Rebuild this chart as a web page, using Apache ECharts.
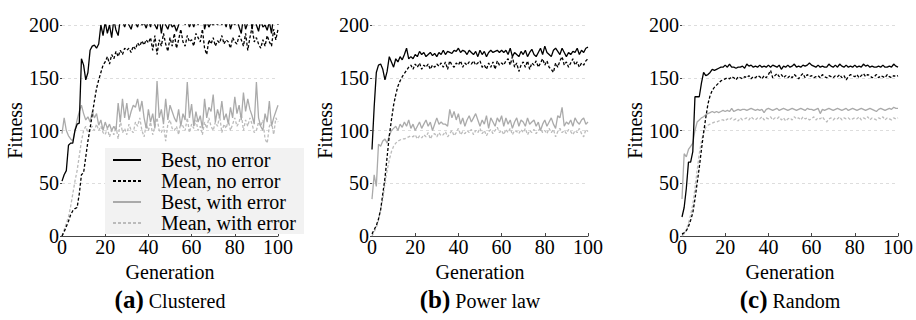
<html>
<head>
    <meta charset="utf-8">
    <title>Fitness per generation</title>
    <script src="https://cdn.jsdelivr.net/npm/echarts@6/dist/echarts.min.js"></script>
    <style>
        body { margin: 0; background: white; }
        #main { width: 916px; height: 320px; }
        .caption {
            position: absolute; top: 287px; width: 216px; text-align: center;
            font: 20px/26px "Liberation Serif", serif; color: #000;
        }
        .caption b { font-size: 25px; }
    </style>
</head>
<body>
    <div id="main"></div>
    <div id="captions"></div>
    <script>
        // generations 0..100
        var GENS = []
        for (var g = 0; g <= 100; g++) GENS.push(g)

        var SERIES_NAMES = ['Best, no error', 'Mean, no error', 'Best, with error', 'Mean, with error']
        var PANEL_TITLES = [['(a)', 'Clustered'], ['(b)', 'Power law'], ['(c)', 'Random']]
        var X_TICKS = [0, 20, 40, 60, 80, 100]
        var Y_TICKS = [0, 50, 100, 150, 200]

        // (a) Clustered
        var bestA = [52, 58, 62, 86, 88, 88, 100, 106, 107, 168,
            162, 148, 155, 176, 180, 181, 178, 182, 200, 190,
            203, 192, 200, 188, 205, 195, 190, 206, 204, 198,
            205, 200, 196, 204, 202, 198, 206, 200, 202, 197,
            205, 198, 209, 200, 196, 208, 192, 205, 200, 196,
            203, 198, 200, 194, 200, 210, 212, 200, 206, 198,
            204, 198, 206, 200, 210, 218, 196, 204, 198, 202,
            200, 203, 200, 206, 200, 205, 198, 208, 196, 203,
            200, 206, 198, 192, 208, 196, 202, 214, 196, 210,
            200, 194, 205, 198, 200, 195, 203, 192, 210, 218, 200]
        var meanA = [0, 4, 9, 14, 20, 24, 26, 27, 40, 58,
            60, 75, 90, 102, 115, 128, 140, 148, 155, 162,
            165, 170, 163, 172, 168, 175, 170, 176, 172, 178,
            176, 178, 174, 180, 177, 183, 180, 185, 181, 186,
            183, 188, 176, 190, 172, 186, 180, 192, 182, 175,
            188, 180, 192, 178, 186, 196, 184, 180, 190, 184,
            186, 180, 192, 188, 184, 196, 178, 172, 186, 182,
            188, 180, 185, 183, 190, 182, 186, 184, 178, 188,
            184, 182, 190, 186, 180, 192, 176, 188, 198, 184,
            188, 182, 178, 186, 180, 190, 184, 180, 196, 186, 196]
        var bestErrA = [97, 112, 100, 95, 92, 90, 100, 110, 118, 124,
            116, 110, 113, 108, 118, 112, 116, 105, 110, 100,
            108, 102, 106, 100, 104, 100, 126, 108, 130, 112,
            126, 110, 118, 124, 122, 130, 118, 128, 112, 102,
            120, 108, 116, 102, 147, 112, 120, 106, 130, 110,
            124, 118, 112, 108, 120, 104, 116, 110, 146, 112,
            125, 104, 118, 108, 114, 102, 130, 112, 122, 118,
            134, 108, 120, 112, 128, 110, 116, 106, 122, 112,
            132, 116, 124, 110, 136, 118, 130, 120, 114, 106,
            146, 112, 104, 100, 116, 108, 128, 104, 112, 118, 124]
        var meanErrA = [0, 6, 12, 18, 28, 40, 52, 62, 76, 90,
            100, 104, 98, 102, 104, 100, 106, 100, 104, 98,
            96, 102, 94, 100, 96, 104, 92, 110, 98, 102,
            96, 106, 100, 98, 108, 104, 112, 100, 94, 106,
            100, 108, 96, 104, 112, 100, 98, 104, 90, 106,
            110, 102, 100, 104, 96, 108, 104, 100, 112, 98,
            106, 102, 110, 100, 104, 96, 108, 102, 112, 104,
            100, 108, 104, 114, 98, 106, 102, 110, 100, 106,
            112, 104, 108, 116, 100, 110, 104, 112, 106, 98,
            100, 108, 104, 110, 92, 88, 104, 108, 96, 112, 108]

        // (b) Power law
        var bestB = [82, 122, 155, 162, 163, 158, 148, 156, 170, 165,
            160, 168, 165, 170, 167, 172, 178, 168, 170, 168,
            172, 170, 175, 172, 174, 170, 172, 174, 171, 173,
            170, 174, 172, 176, 172, 175, 174, 173, 176, 175,
            178, 174, 176, 175, 172, 176, 174, 172, 175, 170,
            176, 172, 175, 170, 174, 176, 174, 175, 176, 174,
            176, 174, 176, 172, 178, 170, 174, 172, 170, 175,
            172, 176, 170, 174, 177, 172, 170, 174, 178, 172,
            180, 174, 172, 170, 176, 178, 175, 172, 178, 174,
            170, 174, 172, 175, 174, 178, 172, 176, 174, 178, 179]
        var meanB = [2, 6, 10, 16, 25, 40, 55, 75, 95, 110,
            124, 134, 142, 147, 151, 154, 157, 160, 162, 158,
            163, 160, 164, 158, 162, 160, 163, 158, 162, 160,
            163, 161, 164, 160, 165, 158, 166, 162, 160, 164,
            162, 166, 160, 164, 162, 165, 163, 166, 162, 164,
            166, 160, 162, 158, 164, 160, 165, 158, 166, 162,
            164, 162, 166, 168, 162, 170, 160, 164, 156, 162,
            165, 160, 166, 158, 164, 162, 166, 160, 164, 168,
            162, 166, 160, 158, 155, 164, 160, 166, 170, 162,
            165, 160, 164, 168, 162, 165, 160, 164, 162, 166, 168]
        var bestErrB = [35, 58, 47, 87, 85, 90, 92, 88, 95, 100,
            102, 104, 100, 106, 103, 108, 104, 110, 102, 106,
            100, 104, 108, 102, 106, 110, 104, 108, 100, 106,
            112, 106, 108, 106, 106, 104, 120, 112, 118, 110,
            116, 106, 112, 104, 110, 114, 108, 112, 116, 110,
            104, 110, 106, 114, 102, 112, 108, 104, 112, 108,
            114, 104, 112, 106, 110, 102, 108, 112, 104, 110,
            108, 104, 112, 106, 108, 110, 104, 108, 100, 106,
            110, 104, 108, 112, 106, 102, 114, 112, 122, 104,
            108, 106, 110, 104, 112, 108, 106, 110, 112, 106, 108]
        var meanErrB = [0, 4, 8, 15, 25, 35, 50, 62, 72, 80,
            85, 88, 90, 91, 92, 92, 93, 94, 95, 94,
            96, 92, 95, 93, 96, 94, 98, 92, 96, 97,
            94, 98, 95, 96, 99, 94, 97, 100, 95, 98,
            102, 96, 99, 97, 100, 98, 101, 96, 100, 98,
            102, 97, 100, 95, 99, 101, 97, 100, 103, 98,
            100, 96, 101, 98, 102, 96, 100, 99, 97, 101,
            98, 102, 96, 100, 98, 101, 97, 100, 102, 98,
            100, 97, 102, 98, 101, 94, 99, 102, 98, 100,
            97, 101, 99, 96, 100, 98, 102, 97, 94, 101, 99]

        // (c) Random
        var bestC = [18, 27, 45, 70, 70, 80, 132, 132, 132, 145,
            155, 152, 153, 155, 158, 157, 158, 159, 160, 160,
            162, 160, 163, 160, 160, 159, 160, 160, 161, 159,
            163, 161, 162, 160, 161, 160, 162, 160, 161, 160,
            162, 160, 162, 161, 160, 162, 158, 161, 160, 162,
            160, 161, 163, 160, 161, 160, 162, 161, 162, 164,
            162, 161, 160, 162, 160, 161, 160, 160, 163, 161,
            160, 162, 160, 163, 161, 160, 162, 160, 161, 160,
            162, 160, 161, 160, 163, 161, 162, 160, 161, 160,
            160, 161, 160, 162, 160, 160, 161, 160, 163, 161, 160]
        var meanC = [2, 3, 5, 9, 15, 22, 35, 50, 65, 82,
            98, 112, 125, 133, 138, 141, 143, 145, 147, 148,
            149, 150, 149, 151, 150, 148, 151, 150, 149, 151,
            150, 152, 149, 151, 150, 152, 151, 149, 152, 150,
            153, 157, 150, 152, 154, 151, 153, 150, 152, 150,
            152, 150, 153, 151, 149, 152, 154, 150, 153, 151,
            152, 150, 151, 152, 150, 153, 151, 150, 152, 151,
            150, 152, 151, 153, 150, 152, 148, 151, 153, 152,
            151, 153, 150, 152, 154, 151, 153, 152, 150, 151,
            153, 150, 152, 151, 150, 153, 151, 150, 152, 151, 152]
        var bestErrC = [35, 78, 75, 82, 85, 88, 100, 108, 110, 112,
            113, 115, 116, 117, 118, 117, 118, 117, 118, 119,
            118, 119, 118, 121, 118, 119, 120, 119, 120, 120,
            119, 120, 121, 120, 119, 120, 119, 120, 117, 120,
            121, 120, 119, 120, 121, 119, 120, 121, 120, 119,
            120, 121, 120, 119, 120, 121, 120, 119, 121, 120,
            120, 119, 120, 121, 116, 120, 119, 120, 121, 120,
            119, 120, 121, 120, 119, 120, 121, 119, 120, 121,
            120, 119, 120, 121, 120, 119, 120, 121, 120, 119,
            118, 120, 121, 120, 119, 120, 121, 120, 122, 121, 121]
        var meanErrC = [0, 2, 6, 12, 20, 30, 45, 62, 78, 90,
            98, 103, 105, 106, 107, 108, 108, 109, 110, 110,
            109, 111, 110, 112, 110, 111, 109, 112, 110, 111,
            112, 110, 113, 111, 110, 112, 111, 113, 110, 112,
            111, 113, 110, 112, 111, 113, 110, 112, 109, 111,
            112, 110, 113, 111, 112, 110, 113, 111, 112, 110,
            111, 113, 110, 112, 111, 113, 110, 108, 111, 112,
            110, 112, 111, 113, 110, 112, 111, 112, 110, 111,
            112, 111, 113, 110, 112, 111, 113, 110, 112, 111,
            110, 112, 111, 113, 110, 112, 111, 110, 112, 111, 112]

        var PANELS = [
            [bestA, meanA, bestErrA, meanErrA],
            [bestB, meanB, bestErrB, meanErrB],
            [bestC, meanC, bestErrC, meanErrC],
        ]

        var FONT = 'Liberation Serif'
        var LINE_STYLES = [
            { color: '#000', width: 1.3, type: 'solid' },
            { color: '#000', width: 1.3, type: [3, 2] },
            { color: '#aaa', width: 1.3, type: 'solid' },
            { color: '#bbb', width: 1.3, type: [3, 2] },
        ]
        var GRID_LEFT = [62, 372, 682]
        var GRID_WIDTH = 216

        // sub-captions as page text (serif face gets used in the DOM this way)
        var capBox = document.getElementById('captions')
        PANEL_TITLES.forEach((t, p) => {
            var div = document.createElement('div')
            div.className = 'caption'
            div.style.left = GRID_LEFT[p] + 'px'
            div.innerHTML = `<b>${t[0]}</b> ${t[1]}`
            capBox.appendChild(div)
        })
        capBox.offsetWidth

        var chart = echarts.init(document.getElementById('main'), null, { renderer: 'svg' })
        var options = {
            textStyle: { fontFamily: FONT },
            grid: [], xAxis: [], yAxis: [], series: [],
            legend: {
                data: SERIES_NAMES,
                orient: 'vertical',
                left: 105, top: 148,
                padding: [2, 8, 1, 7],
                backgroundColor: '#f2f2f2',
                itemWidth: 28, itemHeight: 14, itemGap: 1,
                itemStyle: { opacity: 0 },
                textStyle: { fontFamily: FONT, fontSize: 20, color: '#000', lineHeight: 20, padding: [0, 0, 0, 15] },
                selectedMode: false,
            },
        }

        PANELS.forEach((panel, p) => {
            options.grid.push({ left: GRID_LEFT[p], width: GRID_WIDTH, top: 25, bottom: 84 })
            options.xAxis.push({
                type: 'value', gridIndex: p, min: 0, max: 100, interval: 20,
                name: 'Generation', nameLocation: 'middle', nameGap: 10,
                nameTextStyle: { fontFamily: FONT, fontSize: 20, color: '#000' },
                axisLine: { show: true, lineStyle: { color: '#444', width: 1 } },
                axisTick: { show: true, inside: true, length: 3, lineStyle: { color: '#444' } },
                axisLabel: { fontFamily: FONT, fontSize: 20, color: '#000', margin: 1 },
                splitLine: { show: false },
            })
            options.yAxis.push({
                type: 'value', gridIndex: p, min: 0, max: 200, interval: 50,
                name: 'Fitness', nameLocation: 'middle', nameGap: 36,
                nameTextStyle: { fontFamily: FONT, fontSize: 20, color: '#000' },
                axisLine: { show: false },
                axisTick: { show: true, length: 2, lineStyle: { color: '#444' } },
                axisLabel: { fontFamily: FONT, fontSize: 20, color: '#000', margin: 3 },
                splitLine: { show: true, lineStyle: { color: '#ddd', type: [3, 3], width: 1 } },
            })
            panel.forEach((vals, s) => {
                options.series.push({
                    name: SERIES_NAMES[s], type: 'line',
                    xAxisIndex: p, yAxisIndex: p,
                    data: GENS.map((g, i) => [g, vals[i]]),
                    symbol: 'none', clip: false,
                    lineStyle: LINE_STYLES[s],
                    itemStyle: { color: LINE_STYLES[s].color },
                    z: 10 - s,
                })
            })
        })

        chart.setOption(options)
    </script>
</body>
</html>
